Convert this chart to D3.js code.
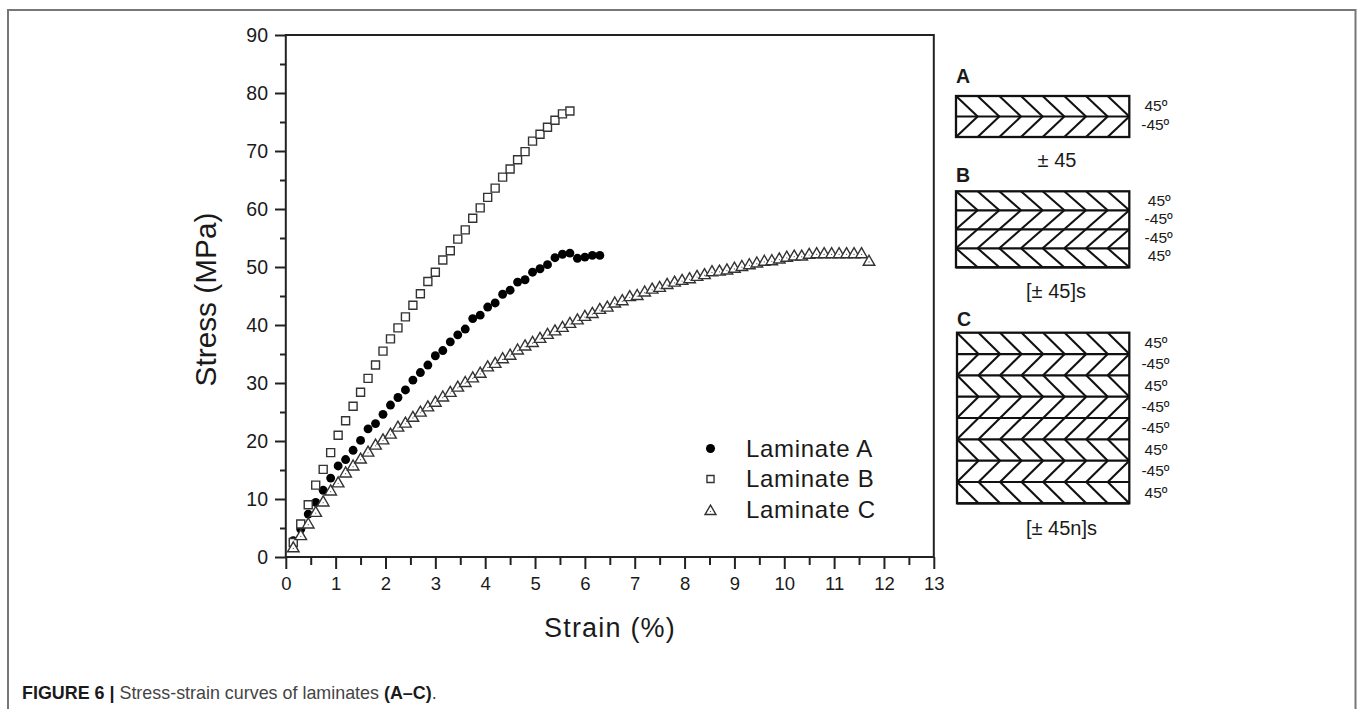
<!DOCTYPE html>
<html>
<head>
<meta charset="utf-8">
<script src="https://cdn.jsdelivr.net/npm/d3@7"></script>
<style>
  html, body { margin: 0; padding: 0; background: #fff; overflow: hidden; }
  text { font-family: "Liberation Sans", Arial, sans-serif; fill: #1a1a1a; }
  .axis path { display: none; }
  .axis line { stroke: #222; stroke-width: 2; }
</style>
</head>
<body>
<div id="chart"></div>
<script>
// values
const strain = [0.15, 0.3, 0.45, 0.6, 0.75, 0.9, 1.05, 1.2, 1.35, 1.5, 1.65, 1.8, 1.95, 2.1, 2.25, 2.4, 2.55, 2.7, 2.85, 3.0,
    3.15, 3.3, 3.45, 3.6, 3.75, 3.9, 4.05, 4.2, 4.35, 4.5, 4.65, 4.8, 4.95, 5.1, 5.25, 5.4, 5.55, 5.7, 5.85, 6.0,
    6.15, 6.3, 6.45, 6.6, 6.75, 6.9, 7.05, 7.2, 7.35, 7.5, 7.65, 7.8, 7.95, 8.1, 8.25, 8.4, 8.55, 8.7, 8.85, 9.0,
    9.15, 9.3, 9.45, 9.6, 9.75, 9.9, 10.05, 10.2, 10.35, 10.5, 10.65, 10.8, 10.95, 11.1, 11.25, 11.4, 11.55, 11.7];
const stressA = [2.8, 4.8, 7.4, 9.4, 11.5, 13.6, 15.7, 16.8, 18.4, 20.1, 22.1, 23.0, 24.6, 26.2, 27.5, 28.8, 30.5, 31.8, 33.1, 34.7,
    35.6, 37.1, 38.3, 39.3, 41.1, 41.7, 43.1, 43.8, 45.3, 46.0, 47.4, 47.8, 49.1, 49.7, 50.4, 51.6, 52.2, 52.4, 51.5, 51.7,
    52.0, 52.0];
const stressB = [2.5, 5.7, 9.0, 12.4, 15.1, 18.0, 21.0, 23.5, 26.0, 28.4, 30.8, 33.1, 35.5, 37.6, 39.5, 41.4, 43.4, 45.4, 47.5, 49.1,
    51.2, 52.8, 54.8, 56.4, 58.4, 60.2, 62.0, 63.6, 65.5, 66.9, 68.5, 69.9, 71.7, 72.9, 74.1, 75.3, 76.4, 76.9];
const stressC = [1.8, 3.9, 5.9, 7.9, 9.7, 11.6, 13.0, 14.7, 15.9, 17.1, 18.3, 19.5, 20.4, 21.4, 22.6, 23.3, 24.3, 25.2, 26.1, 26.9,
    27.8, 28.6, 29.5, 30.3, 31.1, 31.9, 33.0, 33.6, 34.4, 35.0, 35.9, 36.6, 37.2, 37.9, 38.6, 39.2, 39.8, 40.5, 41.1, 41.7,
    42.2, 42.9, 43.3, 44.0, 44.4, 45.1, 45.3, 45.9, 46.4, 46.7, 47.2, 47.6, 47.9, 48.2, 48.6, 48.9, 49.4, 49.5, 49.7, 50.0,
    50.3, 50.6, 50.9, 51.2, 51.3, 51.6, 51.9, 52.1, 52.1, 52.4, 52.5, 52.5, 52.5, 52.5, 52.5, 52.5, 52.5, 51.2];

const xMajor = [0, 1, 2, 3, 4, 5, 6, 7, 8, 9, 10, 11, 12, 13];
const xMinor = [0.5, 1.5, 2.5, 3.5, 4.5, 5.5, 6.5, 7.5, 8.5, 9.5, 10.5, 11.5, 12.5];
const yMajor = [0, 10, 20, 30, 40, 50, 60, 70, 80, 90];
const yMinor = [5, 15, 25, 35, 45, 55, 65, 75, 85];
const legendNames = ["Laminate A", "Laminate B", "Laminate C"];

// ply stacks of the three schematics
const layupA = [45, -45];
const layupB = [45, -45, -45, 45];
const layupC = [45, -45, 45, -45, -45, 45, -45, 45];
const chevrons = [0, 1, 2, 3, 4, 5, 6, 7];

const WIDTH = 1357, HEIGHT = 709;
const INK = "#111";

var svg = d3.select("#chart")
    .append("svg")
    .attr("width", WIDTH)
    .attr("height", HEIGHT)
    .style("display", "block");

// page frame (no bottom edge)
svg.append("path")
    .attr("d", "M8,709 V10 H1355.5 V709")
    .attr("fill", "none")
    .attr("stroke", "#777")
    .attr("stroke-width", 2);

var x = d3.scaleLinear().domain([0, 13]).range([285.8, 933.8]);
var y = d3.scaleLinear().domain([0, 90]).range([557, 35]);

// axes: long ticks with labels, then the short ones
var xAxis = svg.append("g")
    .attr("class", "axis")
    .attr("transform", "translate(0,557)")
    .call(d3.axisBottom(x).tickValues(xMajor).tickSize(12).tickPadding(8).tickFormat(d3.format("d")));
xAxis.selectAll("text").style("font-size", "18.5px");
svg.append("g")
    .attr("class", "axis")
    .attr("transform", "translate(0,557)")
    .call(d3.axisBottom(x).tickValues(xMinor).tickSize(8).tickFormat(""));

var yAxis = svg.append("g")
    .attr("class", "axis")
    .attr("transform", "translate(286,0)")
    .call(d3.axisLeft(y).tickValues(yMajor).tickSize(11).tickPadding(7).tickFormat(d3.format("d")));
yAxis.selectAll("text").style("font-size", "19.5px");
svg.append("g")
    .attr("class", "axis")
    .attr("transform", "translate(286,0)")
    .call(d3.axisLeft(y).tickValues(yMinor).tickSize(6).tickFormat(""));

// box around the plot
svg.append("rect")
    .attr("x", x(0))
    .attr("y", y(90))
    .attr("width", x(13) - x(0))
    .attr("height", y(0) - y(90))
    .attr("fill", "none")
    .attr("stroke", "#222")
    .attr("stroke-width", 2);

svg.append("text")
    .attr("x", 610)
    .attr("y", 637)
    .attr("text-anchor", "middle")
    .style("font-size", "27px")
    .style("letter-spacing", "1.2px")
    .text("Strain (%)");

svg.append("text")
    .attr("transform", "translate(215.5,299.5) rotate(-90)")
    .attr("text-anchor", "middle")
    .style("font-size", "29.8px")
    .text("Stress (MPa)");

// markers
const symbolCircle = d3.symbol().type(d3.symbolCircle).size(62)();
const symbolSquare = d3.symbol().type(d3.symbolSquare).size(64)();
const symbolTriangle = d3.symbol().type(d3.symbolTriangle).size(58)();

function drawCircle(sel, path) {
    sel.append("path").attr("d", path).attr("fill", "#000");
}
function drawSquare(sel, path) {
    sel.append("path").attr("d", path)
        .attr("fill", "#fff").attr("stroke", "#333").attr("stroke-width", 1.4);
}
function drawTriangle(sel, path) {
    // d3 centres the triangle on its centroid, the values sit mid height
    sel.append("path").attr("d", path)
        .attr("transform", "translate(0,1.9)")
        .attr("fill", "#fff").attr("stroke", "#333").attr("stroke-width", 1.4);
    sel.append("circle").attr("cy", 1.9).attr("r", 0.6).attr("fill", "#555");
}

function plotSeries(values, draw, path) {
    svg.append("g")
        .selectAll("g")
        .data(values)
        .enter()
        .append("g")
        .attr("transform", (d, i) => "translate(" + x(strain[i]) + "," + y(d) + ")")
        .call(draw, path);
}
plotSeries(stressA, drawCircle, symbolCircle);
plotSeries(stressB, drawSquare, symbolSquare);
plotSeries(stressC, drawTriangle, symbolTriangle);

// legend
var legendRow = d3.scalePoint().domain(legendNames).range([448.5, 509.5]);
var legend = svg.append("g");
var legendDraw = [
    g => drawCircle(g, d3.symbol().type(d3.symbolCircle).size(64)()),
    g => drawSquare(g, d3.symbol().type(d3.symbolSquare).size(50)()),
    g => drawTriangle(g, d3.symbol().type(d3.symbolTriangle).size(52)())
];
legendNames.forEach((name, i) => {
    let g = legend.append("g").attr("transform", "translate(710.5," + legendRow(name) + ")");
    legendDraw[i](g);
    g.append("text")
        .attr("x", 35.5)
        .attr("y", 8)
        .style("font-size", "24px")
        .style("letter-spacing", "0.7px")
        .text(name);
});

// a stack of plies with its labels
function drawLayup(name, layup, box, note) {
    let px = d3.scaleLinear().domain([0, 8]).range([box.left, box.right]);
    let py = d3.scaleBand().domain(d3.range(layup.length)).range([box.top, box.bottom]);
    // the labels are spaced a little tighter than the plies
    let labelY = d3.scalePoint().domain(d3.range(layup.length)).range(box.labelRange);
    let g = svg.append("g");

    g.append("text")
        .attr("x", box.left)
        .attr("y", box.nameY)
        .style("font-size", "19.5px")
        .style("font-weight", "bold")
        .text(name);

    layup.forEach((angle, row) => {
        let top = py(row), bottom = top + py.bandwidth();
        g.selectAll(null)
            .data(chevrons)
            .enter()
            .append("line")
            .attr("x1", d => px(d))
            .attr("x2", d => px(d + 1))
            .attr("y1", angle > 0 ? top : bottom)
            .attr("y2", angle > 0 ? bottom : top)
            .attr("stroke", INK)
            .attr("stroke-width", 2.1);
        g.append("line")
            .attr("x1", box.left).attr("x2", box.right)
            .attr("y1", bottom).attr("y2", bottom)
            .attr("stroke", INK)
            .attr("stroke-width", 2.2);
        g.append("text")
            .attr("x", angle > 0 ? box.label : box.label + 2)
            .attr("y", labelY(row))
            .attr("text-anchor", "end")
            .style("font-size", "15.5px")
            .text(angle + "º");
    });

    g.append("rect")
        .attr("x", box.left)
        .attr("y", box.top)
        .attr("width", box.right - box.left)
        .attr("height", box.bottom - box.top)
        .attr("fill", "none")
        .attr("stroke", INK)
        .attr("stroke-width", 2.3);

    g.append("text")
        .attr("x", note.x)
        .attr("y", note.y)
        .attr("text-anchor", "middle")
        .style("font-size", "20px")
        .text(note.text);
}

drawLayup("A", layupA, {left: 956, right: 1129.3, top: 96, bottom: 137, label: 1167.3, labelRange: [111, 130], nameY: 82.7},
    {x: 1057, y: 167, text: "± 45"});
drawLayup("B", layupB, {left: 956, right: 1129.3, top: 191.3, bottom: 267.3, label: 1170.7, labelRange: [206, 261], nameY: 181.7},
    {x: 1056, y: 298, text: "[± 45]s"});
drawLayup("C", layupC, {left: 957, right: 1129.3, top: 332.7, bottom: 503.3, label: 1167.5, labelRange: [348, 497.5], nameY: 326},
    {x: 1061.5, y: 535, text: "[± 45n]s"});

// caption
var caption = svg.append("text")
    .attr("x", 22)
    .attr("y", 699)
    .style("font-size", "17.9px");
caption.append("tspan").style("font-weight", "bold").text("FIGURE 6 | ");
caption.append("tspan").style("fill", "#444").text("Stress-strain curves of laminates ");
caption.append("tspan").style("font-weight", "bold").text("(A–C)");
caption.append("tspan").style("fill", "#444").text(".");
</script>
</body>
</html>
